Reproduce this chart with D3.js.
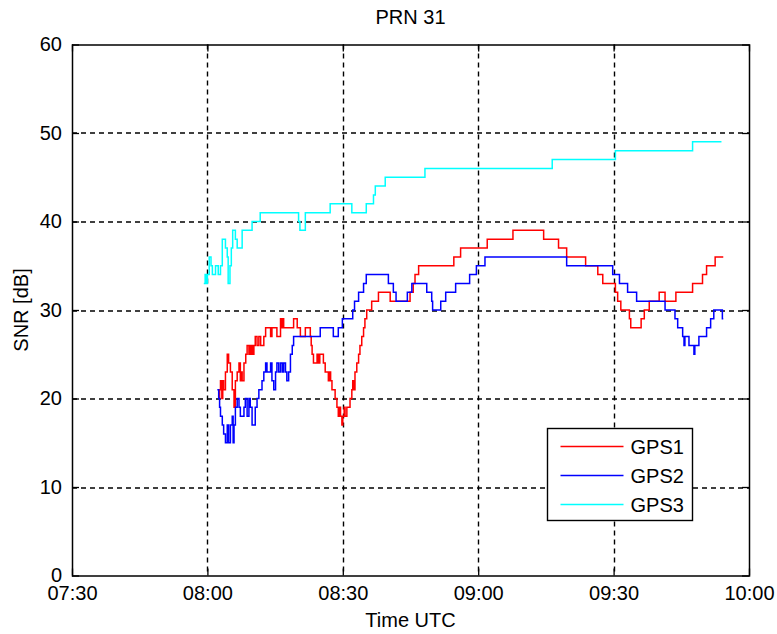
<!DOCTYPE html>
<html>
<head>
<meta charset="utf-8">
<script src="https://cdn.jsdelivr.net/npm/d3@7"></script>
<style>
  html, body { margin: 0; padding: 0; background: #fff; }
  svg { display: block; }
  text { font-family: "Liberation Sans", Arial, sans-serif; fill: #000; }
</style>
</head>
<body>
<svg id="chart" width="777" height="634"></svg>
<script>
// Signal-to-noise ratio of PRN 31 seen by three GPS receivers.
// Times are minutes after 08:00 UTC; each pair marks where a new SNR level starts.
const gps1Min = [
  2.5, 2.7, 2.9, 3.2, 3.4, 3.6, 4.0, 4.4, 4.7, 5.1,
  5.5, 5.9, 6.2, 6.6, 7.0, 7.3, 7.5, 7.7, 8.1, 8.5,
  8.8, 9.2, 9.4, 9.6, 9.8, 10.0, 10.3, 10.6, 11.0, 11.4,
  11.8, 12.5, 12.9, 14.0, 14.3, 15.4, 16.2, 16.5, 16.7, 16.9,
  19.1, 19.9, 20.6, 21.7, 22.8, 23.0, 23.2, 23.5, 24.3, 24.6,
  24.9, 25.7, 26.1, 26.8, 27.0, 27.3, 27.6, 28.3, 28.7, 29.0,
  29.3, 29.5, 29.8, 30.0, 30.3, 30.5, 30.9, 31.6, 32.0, 32.2,
  32.4, 32.7, 33.1, 33.5, 33.8, 34.2, 34.6, 34.9, 35.3, 36.4,
  37.9, 40.5, 44.9, 45.6, 46.0, 46.8, 54.6, 56.1, 62.0, 67.7,
  74.5, 77.8, 79.6, 83.8, 86.5, 87.6, 90.4, 90.9, 91.6, 93.5,
  93.8, 96.1, 96.8, 97.9, 100.1, 101.4, 103.8, 107.5, 109.7, 110.6,
  112.5, 114.3
];
const gps1Snr = [
  20, 21, 22, 20, 22, 21, 23, 25, 24, 23,
  21, 19, 22, 23, 24, 22, 23, 22, 24, 25,
  26, 25, 26, 25, 26, 25, 26, 27, 26, 27,
  26, 27, 28, 27, 28, 27, 29, 28, 29, 28,
  29, 28, 27, 28, 27, 26, 25, 24, 25, 24,
  25, 24, 23, 22, 23, 22, 21, 20, 19, 18,
  19, 18, 17, 18, 19, 18, 19, 20, 21, 22,
  21, 23, 24, 25, 26, 27, 28, 29, 30, 31,
  32, 31, 32, 33, 34, 35, 36, 37, 38, 39,
  38, 37, 36, 35, 34, 33, 32, 31, 30, 29,
  28, 29, 30, 31, 32, 31, 32, 33, 34, 35,
  36, 36
];

const gps2Min = [
  2.2, 2.5, 2.7, 2.9, 3.3, 3.6, 4.0, 4.4, 4.7, 5.1,
  5.5, 5.7, 5.9, 6.2, 6.6, 7.0, 7.3, 8.1, 8.4, 8.8,
  9.2, 9.5, 9.9, 10.6, 11.0, 11.4, 12.1, 12.5, 12.9, 13.2,
  14.0, 14.3, 14.7, 15.1, 15.4, 15.8, 16.2, 16.6, 16.9, 17.3,
  17.6, 18.0, 18.4, 18.8, 19.1, 25.0, 27.9, 29.0, 29.9, 32.2,
  32.6, 33.5, 34.6, 35.2, 40.1, 41.2, 41.8, 44.3, 45.3, 48.6,
  49.7, 49.9, 51.7, 52.8, 55.0, 58.1, 59.6, 61.5, 79.6, 89.8,
  91.3, 93.1, 95.1, 101.4, 103.6, 104.2, 105.3, 105.6, 105.8, 106.7,
  107.8, 108.0, 108.9, 110.6, 111.5, 112.2, 114.1, 114.3
];
const gps2Snr = [
  21, 20, 19, 18, 17, 16, 15, 17, 15, 17,
  18, 15, 17, 19, 20, 19, 18, 19, 20, 18,
  20, 19, 17, 19, 20, 21, 22, 23, 24, 23,
  24, 22, 21, 23, 24, 23, 24, 23, 24, 23,
  22, 23, 25, 26, 27, 28, 27, 28, 29, 30,
  31, 32, 33, 34, 33, 32, 31, 32, 33, 32,
  31, 30, 31, 32, 33, 34, 35, 36, 35, 34,
  33, 32, 31, 30, 29, 28, 27, 26, 27, 26,
  25, 26, 27, 28, 29, 30, 29, 29
];

const gps3Min = [
  -0.8, -0.5, -0.3, 0.0, 0.4, 0.8, 1.1, 1.8, 2.4, 2.9,
  3.3, 4.0, 4.4, 4.6, 5.0, 5.3, 5.6, 6.2, 6.6, 7.7,
  9.9, 11.7, 20.2, 20.5, 21.7, 27.2, 32.0, 35.2, 36.8, 37.2,
  39.4, 48.2, 76.4, 90.4, 107.5, 113.9
];
const gps3Snr = [
  33, 34, 33, 34, 36, 35, 34, 35, 34, 35,
  38, 37, 36, 33, 35, 37, 39, 38, 37, 39,
  40, 41, 40, 39, 41, 42, 41, 42, 43, 44,
  45, 46, 47, 48, 49, 49
];

const seriesNames = ["GPS1", "GPS2", "GPS3"];
const seriesColors = ["#ff0000", "#0000ff", "#00ffff"];
const xTickLabels = ["07:30", "08:00", "08:30", "09:00", "09:30", "10:00"];
const yTicks = [0, 10, 20, 30, 40, 50, 60];

const day = new Date(Date.UTC(2000, 0, 1, 8, 0, 0));
const toTime = m => new Date(day.getTime() + m * 60000);
const parseClock = s => {
  const [h, mi] = s.split(":").map(Number);
  return new Date(Date.UTC(2000, 0, 1, h, mi, 0));
};

const series = [
  { name: seriesNames[0], color: seriesColors[0], pts: gps1Min.map((m, i) => ({ t: toTime(m), v: gps1Snr[i] })) },
  { name: seriesNames[1], color: seriesColors[1], pts: gps2Min.map((m, i) => ({ t: toTime(m), v: gps2Snr[i] })) },
  { name: seriesNames[2], color: seriesColors[2], pts: gps3Min.map((m, i) => ({ t: toTime(m), v: gps3Snr[i] })) }
];

const margin = { left: 72, top: 44.5, right: 777 - 749, bottom: 634 - 575.5 };
const W = 777 - margin.left - margin.right;
const H = 634 - margin.top - margin.bottom;

const xTicks = xTickLabels.map(parseClock);
const x = d3.scaleUtc().domain([xTicks[0], xTicks[xTicks.length - 1]]).range([0, W]);
const y = d3.scaleLinear().domain([0, 60]).range([H, 0]);

const svg = d3.select("#chart");
svg.append("rect").attr("width", 777).attr("height", 634).attr("fill", "#fff");
const g = svg.append("g").attr("transform", `translate(${margin.left},${margin.top})`);

// dashed grid
const grid = g.append("g").attr("stroke", "#000").attr("stroke-width", 1.4).attr("stroke-dasharray", "5,4");
grid.selectAll("line.gx").data(xTicks.slice(1, -1)).join("line")
  .attr("x1", d => Math.round(x(d)) + 0.5).attr("x2", d => Math.round(x(d)) + 0.5)
  .attr("y1", 0).attr("y2", H);
grid.selectAll("line.gy").data(yTicks.slice(1, -1)).join("line")
  .attr("x1", 0).attr("x2", W)
  .attr("y1", d => Math.round(y(d)) + 0.5).attr("y2", d => Math.round(y(d)) + 0.5);

// axes with inward ticks
const fmt = d3.utcFormat("%H:%M");
const xAxis = g.append("g").attr("transform", `translate(0,${H})`)
  .call(d3.axisBottom(x).tickValues(xTicks).tickFormat(fmt).tickSizeInner(-7).tickSizeOuter(0).tickPadding(10));
const yAxis = g.append("g")
  .call(d3.axisLeft(y).tickValues(yTicks).tickSizeInner(-7).tickSizeOuter(0).tickPadding(10));
g.append("g").call(d3.axisTop(x).tickValues(xTicks).tickFormat("").tickSizeInner(-7).tickSizeOuter(0));
g.append("g").attr("transform", `translate(${W},0)`)
  .call(d3.axisRight(y).tickValues(yTicks).tickFormat("").tickSizeInner(-7).tickSizeOuter(0));
g.selectAll(".domain").remove();
g.selectAll(".tick line").attr("stroke", "#000").attr("stroke-width", 1.3);
xAxis.selectAll("text").attr("font-size", 20).attr("font-family", "Liberation Sans, Arial, sans-serif").attr("dy", "0.71em");
yAxis.selectAll("text").attr("font-size", 20).attr("font-family", "Liberation Sans, Arial, sans-serif");

// series as stairs
const line = d3.line().x(d => x(d.t)).y(d => y(d.v)).curve(d3.curveStepAfter);
g.append("g").selectAll("path").data(series).join("path")
  .attr("fill", "none")
  .attr("stroke", d => d.color)
  .attr("stroke-width", 1.5)
  .attr("d", d => line(d.pts));

// frame
g.append("rect").attr("x", 0.5).attr("y", 0.5).attr("width", W).attr("height", H)
  .attr("fill", "none").attr("stroke", "#000").attr("stroke-width", 1.5);

// titles
svg.append("text").attr("x", margin.left + W / 2).attr("y", 24).attr("text-anchor", "middle")
  .attr("font-size", 20).text("PRN 31");
svg.append("text").attr("x", margin.left + W / 2).attr("y", 627).attr("text-anchor", "middle")
  .attr("font-size", 20).text("Time UTC");
svg.append("text").attr("transform", `translate(28,${margin.top + H / 2}) rotate(-90)`)
  .attr("text-anchor", "middle").attr("font-size", 20).text("SNR [dB]");

// legend
const lg = svg.append("g").attr("transform", "translate(547.5,428.5)");
lg.append("rect").attr("width", 145).attr("height", 92).attr("fill", "#fff").attr("stroke", "#000").attr("stroke-width", 1.4);
const items = lg.selectAll("g.item").data(series).join("g")
  .attr("transform", (d, i) => `translate(0,${18 + i * 29})`);
items.append("line").attr("x1", 13).attr("x2", 76).attr("y1", 0).attr("y2", 0)
  .attr("stroke", d => d.color).attr("stroke-width", 1.5);
items.append("text").attr("x", 83).attr("y", 7).attr("font-size", 20).text(d => d.name);
</script>
</body>
</html>
